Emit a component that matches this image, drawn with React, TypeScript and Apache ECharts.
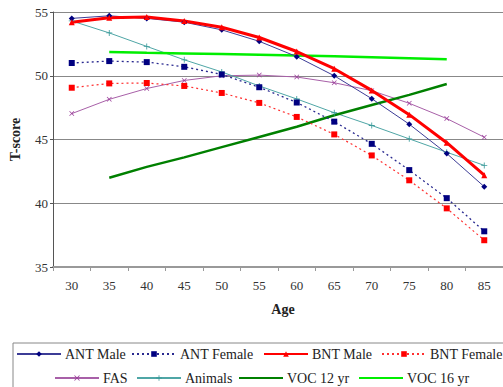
import React, { useEffect, useRef } from "react";
import * as echarts from "echarts";

const ages = ["30", "35", "40", "45", "50", "55", "60", "65", "70", "75", "80", "85"];
const antMale = [54.5, 54.7, 54.5, 54.2, 53.6, 52.7, 51.5, 50.0, 48.2, 46.2, 43.9, 41.3];
const antFemale = [51.0, 51.15, 51.07, 50.7, 50.1, 49.1, 47.9, 46.4, 44.66, 42.6, 40.4, 37.8];
const bntMale = [54.2, 54.55, 54.6, 54.3, 53.8, 53.0, 51.9, 50.55, 48.85, 46.95, 44.75, 42.2];
const bntFemale = [49.06, 49.4, 49.43, 49.2, 48.65, 47.87, 46.77, 45.4, 43.75, 41.8, 39.6, 37.1];
const fas = [47.03, 48.15, 49.0, 49.63, 50.0, 50.05, 49.9, 49.45, 48.83, 47.84, 46.64, 45.18];
const animals = [54.3, 53.36, 52.3, 51.25, 50.3, 49.2, 48.18, 47.1, 46.1, 45.05, 44.0, 42.97];
const voc12 = [null, 42.0, 42.85, 43.6, 44.4, 45.2, 46.0, 46.9, 47.7, 48.5, 49.35, null];
const voc16 = [null, 51.87, 51.8, 51.75, 51.7, 51.65, 51.58, 51.52, 51.45, 51.38, 51.3, null];
const yTicks = { min: 35, max: 55, interval: 5 };

const legendRow1 = ["ANT Male", "ANT Female", "BNT Male", "BNT Female"];
const legendRow2 = ["FAS", "Animals", "VOC 12 yr", "VOC 16 yr"];
const legendRow1Left = [16, 131, 263, 381];
const legendRow2Left = [54, 136, 238, 358];

const FONT = "'Liberation Serif', 'DejaVu Serif', serif";
const X_SYM = "path://M0,1 L1,0 L5,4 L9,0 L10,1 L6,5 L10,9 L9,10 L5,6 L1,10 L0,9 L4,5 Z";
const PLUS_SYM = "path://M4.3,0 H5.7 V4.3 H10 V5.7 H5.7 V10 H4.3 V5.7 H0 V4.3 H4.3 Z";

export default function App() {
  const ref = useRef<HTMLDivElement>(null);
  useEffect(() => {
    if (!ref.current) return;
    const chart = echarts.init(ref.current, null, { renderer: "svg" });
    const legendText = { fontFamily: FONT, fontSize: 14, color: "#222", padding: [0, 0, 0, -1] };
    const mk = (name: string, left: number, top: number, noSymbol: boolean) => ({
      padding: 0,
      itemWidth: 44,
      itemHeight: 7,
      left,
      top,
      textStyle: legendText,
      data: [noSymbol ? { name, itemStyle: { opacity: 0 } } : name],
    });
    const legends = [
      ...legendRow1.map((n, i) => mk(n, legendRow1Left[i], 347, false)),
      ...legendRow2.map((n, i) => mk(n, legendRow2Left[i], 371, n.startsWith("VOC"))),
    ];
    chart.setOption({
      animation: false,
      backgroundColor: "#fff",
      grid: { left: 48, right: 0, top: 12, bottom: 120 },
      graphic: [
        {
          type: "rect",
          shape: { x: 13, y: 343, width: 500, height: 60 },
          style: { fill: "none", stroke: "#888", lineWidth: 1 },
          silent: true,
        },
      ],
      legend: legends,
      xAxis: {
        type: "category",
        data: ages,
        boundaryGap: true,
        name: "Age",
        nameLocation: "middle",
        nameGap: 35,
        nameTextStyle: { fontFamily: FONT, fontSize: 14, fontWeight: "bold", color: "#222", padding: [0, 0, 0, 10] },
        axisLine: { lineStyle: { color: "#999", width: 2 } },
        axisTick: { show: true, length: 4, lineStyle: { color: "#999" } },
        axisLabel: { fontFamily: FONT, fontSize: 13, color: "#333", margin: 12 },
        splitLine: { show: false },
      },
      yAxis: {
        type: "value",
        min: yTicks.min,
        max: yTicks.max,
        interval: yTicks.interval,
        name: "T-score",
        nameLocation: "middle",
        nameGap: 31,
        nameTextStyle: { fontFamily: FONT, fontSize: 14, fontWeight: "bold", color: "#222" },
        axisLine: { show: true, lineStyle: { color: "#555" } },
        axisTick: { show: true, length: 3, lineStyle: { color: "#555" } },
        axisLabel: { fontFamily: FONT, fontSize: 13, color: "#333", margin: 5 },
        splitLine: { show: true, lineStyle: { color: "#888" } },
      },
      series: [
        {
          name: "FAS",
          type: "line",
          data: fas,
          symbol: X_SYM,
          symbolSize: 5,
          itemStyle: { color: "#9a3c9a" },
          lineStyle: { color: "#a860a8", width: 1 },
        },
        {
          name: "Animals",
          type: "line",
          data: animals,
          symbol: PLUS_SYM,
          symbolSize: 6,
          itemStyle: { color: "#3a9a9a" },
          lineStyle: { color: "#4fa6a6", width: 1 },
        },
        {
          name: "VOC 12 yr",
          type: "line",
          data: voc12,
          connectNulls: true,
          symbol: "none",
          itemStyle: { color: "#008000" },
          lineStyle: { color: "#008000", width: 2.5 },
        },
        {
          name: "VOC 16 yr",
          type: "line",
          data: voc16,
          connectNulls: true,
          symbol: "none",
          itemStyle: { color: "#00ee00" },
          lineStyle: { color: "#00ee00", width: 2.5 },
        },
        {
          name: "ANT Female",
          type: "line",
          data: antFemale,
          symbol: "rect",
          symbolSize: 6,
          itemStyle: { color: "#000080" },
          lineStyle: { color: "#2a2a90", width: 1.3, type: [2, 3] },
        },
        {
          name: "BNT Female",
          type: "line",
          data: bntFemale,
          symbol: "rect",
          symbolSize: 6,
          itemStyle: { color: "#ff0000" },
          lineStyle: { color: "#ff3030", width: 1.2, type: [2, 3] },
        },
        {
          name: "ANT Male",
          type: "line",
          data: antMale,
          symbol: "diamond",
          symbolSize: 6,
          itemStyle: { color: "#000080" },
          lineStyle: { color: "#3c3c96", width: 1 },
        },
        {
          name: "BNT Male",
          type: "line",
          data: bntMale,
          symbol: "triangle",
          symbolSize: 6,
          itemStyle: { color: "#ff0000" },
          lineStyle: { color: "#ff0000", width: 3 },
        },
      ],
    });
    return () => chart.dispose();
  }, []);
  return (
    <div
      ref={ref}
      style={{ position: "fixed", left: 0, top: 0, width: 503, height: 387, background: "#fff" }}
    />
  );
}
